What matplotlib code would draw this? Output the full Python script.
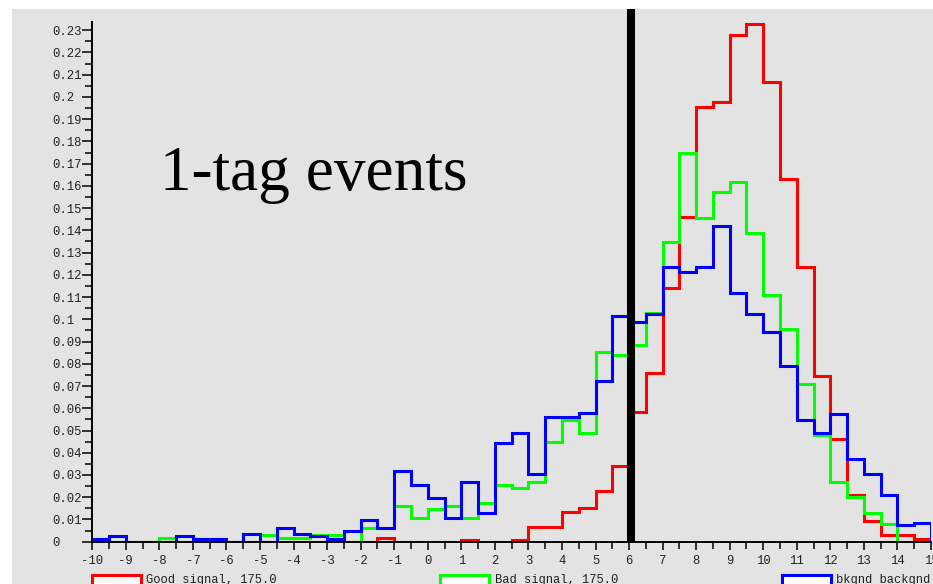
import numpy as np
import matplotlib
matplotlib.use('Agg')
import matplotlib.pyplot as plt
from matplotlib.patches import Rectangle
from matplotlib.ticker import MultipleLocator, FuncFormatter

plt.rcParams['axes.unicode_minus'] = False

# 50 bins of width 0.5 from -10 to 15
edges = np.linspace(-10, 15, 51)

good = [0, 0, 0, 0, 0, 0, 0, 0, 0, 0,
        0, 0, 0, 0, 0, 0, 0, 0.0016, 0, 0,
        0, 0, 0.0008, 0, 0, 0.0008, 0.0066, 0.0066, 0.0132, 0.0153,
        0.023, 0.034, 0.0583, 0.0757, 0.114, 0.146, 0.1956, 0.1978, 0.2278, 0.2326,
        0.2065, 0.163, 0.1234, 0.0746, 0.046, 0.021, 0.0095, 0.0028, 0.0028, 0.001]

bad = [0, 0, 0, 0, 0.0016, 0, 0, 0, 0, 0,
       0.003, 0.0016, 0.0016, 0.003, 0.003, 0, 0.006, 0.006, 0.016, 0.0108,
       0.0148, 0.016, 0.0108, 0.0175, 0.0255, 0.024, 0.027, 0.045, 0.0547, 0.049,
       0.0854, 0.084, 0.0883, 0.1027, 0.1349, 0.1749, 0.1454, 0.1574, 0.1619, 0.139,
       0.111, 0.0958, 0.0707, 0.048, 0.027, 0.0202, 0.013, 0.0079, 0, 0]

bkgnd = [0.001, 0.0024, 0, 0, 0, 0.0024, 0.0012, 0.0012, 0, 0.0033,
         0, 0.006, 0.0033, 0.0027, 0.0013, 0.0048, 0.0096, 0.006, 0.0318, 0.0255,
         0.0198, 0.0105, 0.0268, 0.0127, 0.0445, 0.0489, 0.0304, 0.056, 0.0562, 0.058,
         0.0724, 0.1015, 0.099, 0.1024, 0.1234, 0.1211, 0.1234, 0.142, 0.112, 0.1024,
         0.0943, 0.079, 0.0547, 0.0487, 0.0573, 0.0372, 0.0304, 0.021, 0.0075, 0.0083]

cut_value = 6.05
labels = ['Good signal, 175.0', 'Bad signal, 175.0', 'bkgnd backgnd']
colors = ['#ff0000', '#00ff00', '#0000ff']

W, H = 933, 584
fig = plt.figure(figsize=(W / 100, H / 100), dpi=100, facecolor='white')
fig.patches.append(Rectangle((12 / W, 0), 1, (H - 9) / H, transform=fig.transFigure,
                             facecolor='#e3e3e3', edgecolor='none', zorder=-10))

y0, ytop = 541.7, 22.4
ax = fig.add_axes([92.3 / W, (H - y0) / H, (931 - 92.3) / W, (y0 - ytop) / H])
ax.set_zorder(1)
ax.set_facecolor('none')
ax.set_xlim(-10, 15)
ax.set_ylim(0, 0.2335)

for vals, c in zip([good, bad, bkgnd], colors):
    ax.stairs(vals, edges, baseline=0, color=c, lw=2.2, joinstyle='miter')
ax.hlines(0, edges[0], edges[-1], color=colors[2], lw=1, zorder=3)

# cut line, runs up past the axes
ax.axvline(cut_value, 0, (y0 - 9) / (y0 - ytop), color='black', lw=5.8,
           solid_capstyle='butt', clip_on=False, zorder=5)

ax.text(-7.98, 0.158, '1-tag events', family='Liberation Serif', fontsize=45.5,
        va='baseline')

for s in ['top', 'right']:
    ax.spines[s].set_visible(False)
for s in ['left', 'bottom']:
    ax.spines[s].set_linewidth(1.4)

ax.xaxis.set_major_locator(MultipleLocator(1))
ax.xaxis.set_minor_locator(MultipleLocator(0.5))
ax.yaxis.set_major_locator(MultipleLocator(0.01))
ax.yaxis.set_minor_locator(MultipleLocator(0.005))
ax.yaxis.set_major_formatter(FuncFormatter(lambda v, p: f'{v:.2f}'.rstrip('0').rstrip('.')))

ax.tick_params(axis='y', which='major', length=7.2, width=1.1, pad=21.8,
               labelsize=8.8, labelcolor='#222222')
ax.tick_params(axis='y', which='minor', length=5, width=1.1)
ax.tick_params(axis='x', which='major', length=6, width=1.1, pad=3.5,
               labelsize=8.8, labelcolor='#222222')
ax.tick_params(axis='x', which='minor', length=5, width=1.1)
for lab in ax.get_yticklabels() + ax.get_xticklabels():
    lab.set_family('Liberation Mono')
plt.setp(ax.get_yticklabels(), ha='left')

# legend boxes along the bottom edge
box_x = [92, 440, 782]
text_x = [146, 495, 836]
for lab, c, bx, tx in zip(labels, colors, box_x, text_x):
    fig.patches.append(Rectangle((bx / W, -0.05), 49 / W, (H - 574.5) / H + 0.05,
                                 transform=fig.transFigure, facecolor='white',
                                 edgecolor=c, lw=2.2, zorder=2))
    fig.text(tx / W, 1.5 / H, lab, family='Liberation Mono', fontsize=8.7,
             va='baseline', color='#222222')

fig.savefig('out.png', dpi=100, facecolor=fig.get_facecolor())
